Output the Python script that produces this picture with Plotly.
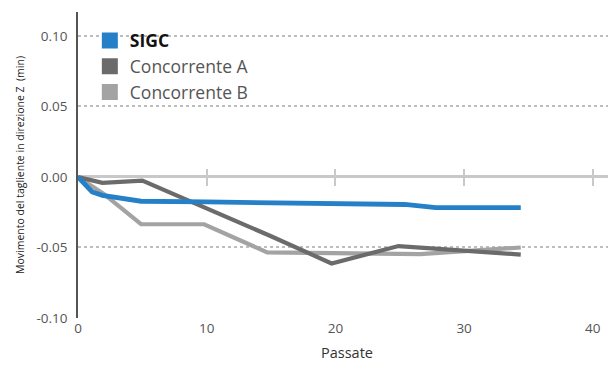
import plotly.graph_objects as go

# Data
sigc_x = [0, 1.1, 1.9, 4.9, 10, 20, 25.4, 27.8, 34.4]
sigc_y = [0, -0.0106, -0.013, -0.0172, -0.0177, -0.019, -0.0195, -0.0217, -0.0217]

a_x = [0, 1.9, 5, 10, 15, 19.7, 24.9, 28, 34.4]
a_y = [0, -0.0042, -0.0026, -0.022, -0.042, -0.0613, -0.049, -0.051, -0.055]

b_x = [0, 2, 4.9, 9.8, 14.7, 20, 26.6, 34.4]
b_y = [0, -0.012, -0.0335, -0.0335, -0.0535, -0.054, -0.0547, -0.050]

x_ticks = [0, 10, 20, 30, 40]
y_ticks = [-0.10, -0.05, 0.00, 0.05, 0.10]
y_ticklabels = ["-0.10", "-0.05", "0.00", "0.05", "0.10"]

names = ["<b>SIGC</b>", "<span style='color:#555'>Concorrente A</span>", "<span style='color:#555'>Concorrente B</span>"]
colors = ["#2680c8", "#6b6b6b", "#a3a3a3"]

YMIN, YMAX = -0.10, 0.117
XMIN, XMAX = 0, 41.8

fig = go.Figure()
fig.add_trace(go.Scatter(x=b_x, y=b_y, mode="lines", line=dict(color=colors[2], width=4.2), showlegend=False, hoverinfo="skip"))
fig.add_trace(go.Scatter(x=a_x, y=a_y, mode="lines", line=dict(color=colors[1], width=4.2), showlegend=False, hoverinfo="skip"))
fig.add_trace(go.Scatter(x=sigc_x, y=sigc_y, mode="lines", line=dict(color=colors[0], width=4.8), showlegend=False, hoverinfo="skip"))

for n, c in zip(names, colors):
    fig.add_trace(go.Scatter(x=[None], y=[None], mode="markers", name=n,
                             marker=dict(symbol="square", size=16, color=c)))

# overlay axes to draw tick marks crossing the zero line
p = (0 - YMIN) / (YMAX - YMIN)
for ax in ("x2", "x3"):
    fig.add_trace(go.Scatter(x=[None], y=[None], xaxis=ax, yaxis="y", showlegend=False, hoverinfo="skip"))

# white patch hiding the top gridline behind the legend
fig.add_shape(type="rect", xref="paper", yref="y", x0=0.03, x1=0.31, y0=0.097, y1=0.103,
              fillcolor="white", line=dict(width=0), layer="between")

fig.update_layout(
    width=608, height=360,
    margin=dict(l=70, r=0, t=4, b=50, autoexpand=False),
    plot_bgcolor="white", paper_bgcolor="white",
    font=dict(family="Open Sans, sans-serif", color="#555"),
    xaxis=dict(range=[XMIN, XMAX], tickvals=x_ticks, showgrid=False, zeroline=False,
               showline=False, ticks="", tickfont=dict(size=13.5, color="#555"),
               title=dict(text="Passate", font=dict(size=14.5, color="#333"), standoff=12)),
    xaxis2=dict(overlaying="x", matches="x", anchor="free", position=p, tickvals=x_ticks[1:],
                showticklabels=False, ticks="outside", ticklen=8, tickwidth=2, tickcolor="#c8c8c8",
                showgrid=False, zeroline=False, showline=False),
    xaxis3=dict(overlaying="x", matches="x", anchor="free", position=p, tickvals=x_ticks[1:],
                showticklabels=False, ticks="inside", ticklen=8, tickwidth=2, tickcolor="#c8c8c8",
                showgrid=False, zeroline=False, showline=False),
    yaxis=dict(range=[YMIN, YMAX], tickvals=y_ticks, ticktext=y_ticklabels,
               showgrid=True, gridcolor="#bdbdbd", griddash="dot", gridwidth=1.5,
               zeroline=True, zerolinecolor="#c8c8c8", zerolinewidth=2.5,
               showline=True, linecolor="#555", linewidth=1.5,
               ticks="", ticklabelstandoff=6, tickfont=dict(size=13.5, color="#555"),
               title=dict(text="Movimento del tagliente in direzione Z  (min)",
                          font=dict(size=10.5, color="#222"), standoff=10)),
    legend=dict(x=0.022, y=0.965, xanchor="left", yanchor="top", bgcolor="rgba(0,0,0,0)",
                font=dict(size=17.5, color="#111"), tracegroupgap=0, itemsizing="trace",
                borderwidth=0),
)

fig.write_html("out.html")
